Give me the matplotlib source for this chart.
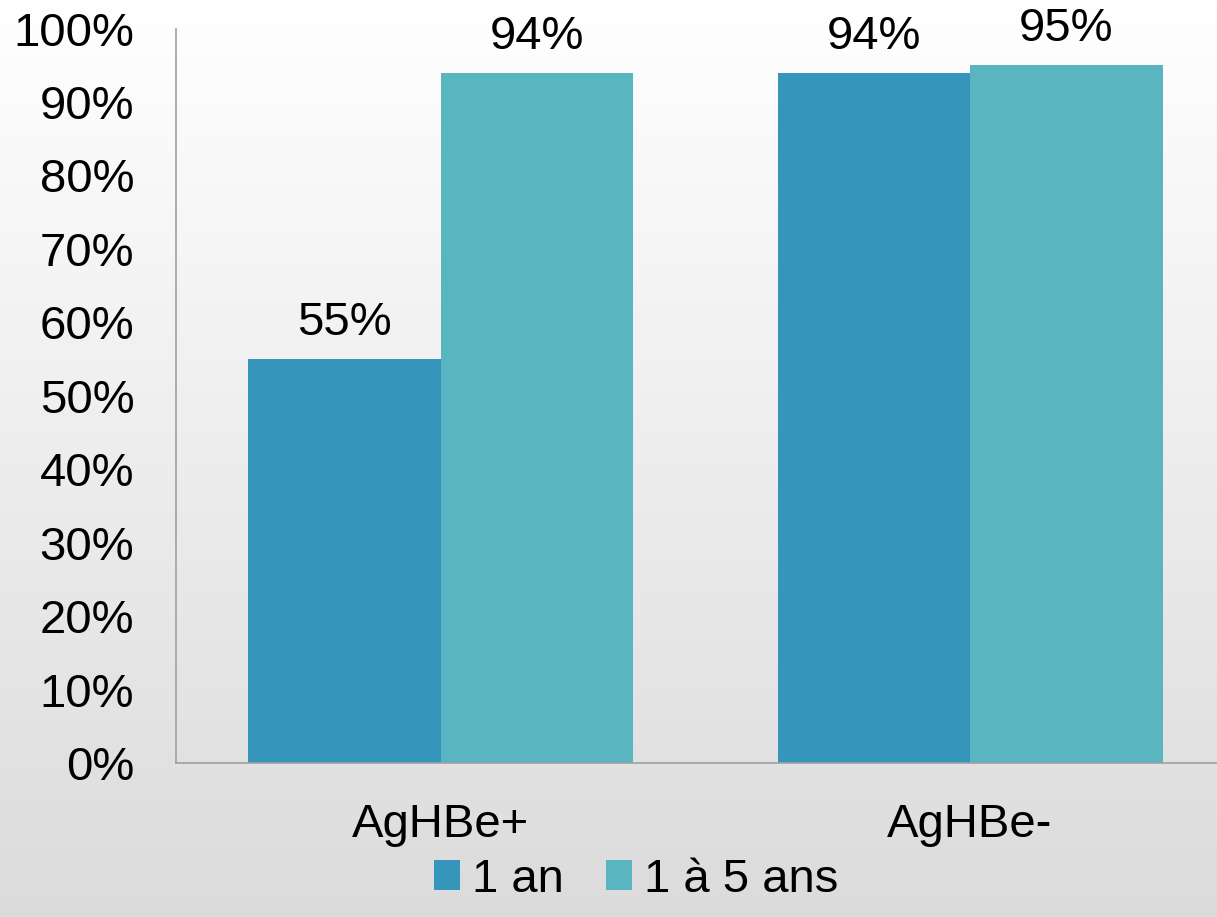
import matplotlib.pyplot as plt
import numpy as np

categories = ['AgHBe+', 'AgHBe-']
series_names = ['1 an', '1 à 5 ans']
un_an = [55, 94]
un_a_cinq = [94, 95]
colors = ['#3595BB', '#59B5C0']

plt.rcParams['font.family'] = ['Liberation Sans', 'DejaVu Sans']

fig = plt.figure(figsize=(12.17, 9.17), dpi=100)

# grey gradient backdrop, white at the top
bg = fig.add_axes([0, 0, 1, 1], zorder=0)
grad = np.linspace(1.0, 0.86, 256).reshape(-1, 1)
bg.imshow(np.dstack([grad, grad, grad]), aspect='auto', extent=[0, 1, 0, 1])
bg.axis('off')

ax = fig.add_axes([0.1446, 0.1679, 0.87, 0.801], zorder=1)
ax.patch.set_alpha(0)

x = np.arange(len(categories))
w = 0.3636
b1 = ax.bar(x - w / 2, un_an, w, color=colors[0], label=series_names[0])
b2 = ax.bar(x + w / 2, un_a_cinq, w, color=colors[1], label=series_names[1])

for bars, vals in [(b1, un_an), (b2, un_a_cinq)]:
    for bar, v in zip(bars, vals):
        ax.text(bar.get_x() + bar.get_width() / 2, v + 1.9, f'{v}%',
                ha='center', va='bottom', fontsize=34)

ax.set_xlim(-0.5, 1.5)
ax.set_ylim(0, 100)
ax.set_yticks(range(0, 101, 10))
ax.set_yticklabels([f'{t}%' for t in range(0, 101, 10)])
ax.set_xticks(x)
ax.set_xticklabels(categories)
ax.tick_params(axis='y', length=0, pad=30, labelsize=34)
ax.tick_params(axis='x', length=0, pad=29, labelsize=34)

for s in ['top', 'right']:
    ax.spines[s].set_visible(False)
for s in ['left', 'bottom']:
    ax.spines[s].set_color('#A0A0A0')
    ax.spines[s].set_linewidth(1.2)

fig.legend(loc='lower center', bbox_to_anchor=(0.523, -0.03), ncol=2,
           frameon=False, fontsize=34, handlelength=0.55, handleheight=0.6,
           handletextpad=0.25, columnspacing=0.9)

fig.savefig('out.png', dpi=100)
